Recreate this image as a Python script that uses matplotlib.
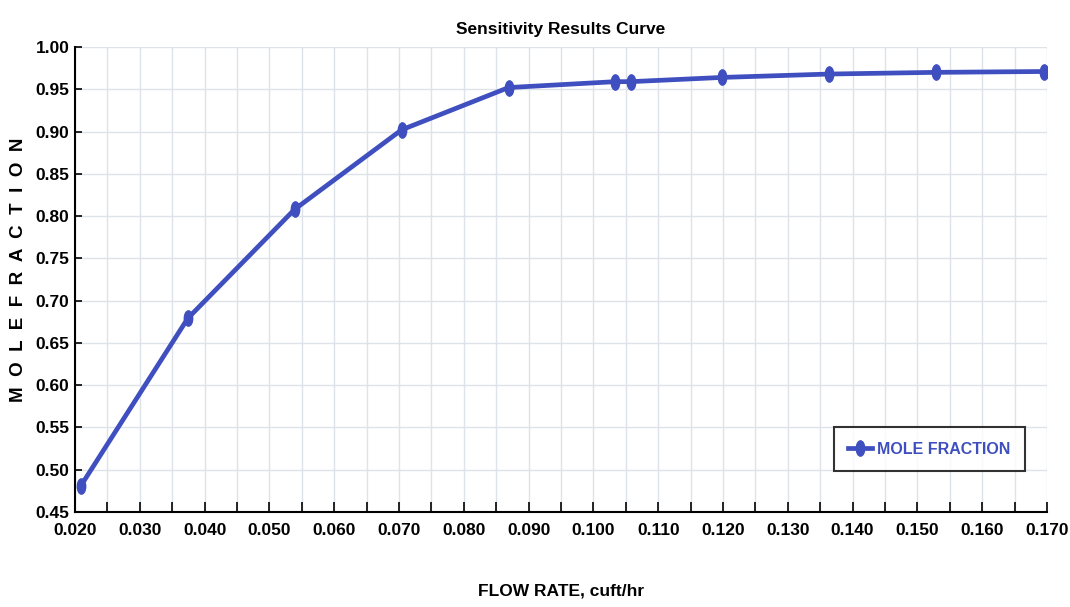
import matplotlib
matplotlib.use("Agg")
from matplotlib import pyplot as plt
from matplotlib.markers import MarkerStyle
from matplotlib.transforms import Affine2D
import numpy as np

# data
flow_rate = [0.0209, 0.0374, 0.0539, 0.0704, 0.0869, 0.1034, 0.1058, 0.1199, 0.1364, 0.1529, 0.1695]
mole_frac = [0.481, 0.679, 0.808, 0.902, 0.952, 0.959, 0.959, 0.964, 0.968, 0.970, 0.971]

x_ticks = np.arange(0.020, 0.1701, 0.010)
y_ticks = np.arange(0.45, 1.001, 0.05)

plt.rcParams['font.family'] = ['Liberation Sans', 'DejaVu Sans']
plt.rcParams['font.weight'] = 'bold'

blue = '#3f4fbf'

fig = plt.figure(figsize=(10.7, 6.07), dpi=100)
ax = fig.add_axes([0.0701, 0.1565, 0.9084, 0.7661])

mk = MarkerStyle('o', transform=Affine2D().scale(0.55, 1.0))
ax.plot(flow_rate, mole_frac, color=blue, lw=3.4, marker=mk, ms=11,
        label='MOLE FRACTION', zorder=3)

ax.set_xlim(0.020, 0.170)
ax.set_ylim(0.45, 1.00)
ax.set_xticks(x_ticks)
ax.set_xticklabels([f'{v:.3f}' for v in x_ticks])
ax.set_xticks(np.arange(0.025, 0.170, 0.010), minor=True)
ax.set_yticks(y_ticks)
ax.set_yticklabels([f'{v:.2f}' for v in y_ticks])

ax.grid(True, which='both', axis='x', color='#dde3e8', lw=1.0)
ax.grid(True, which='major', axis='y', color='#dde3e8', lw=1.0)
ax.set_axisbelow(True)

for s in ['top', 'right']:
    ax.spines[s].set_visible(False)
for s in ['left', 'bottom']:
    ax.spines[s].set_linewidth(1.5)
    ax.spines[s].set_color('black')

ax.tick_params(axis='x', which='both', direction='in', length=7, width=1.2,
               labelsize=12.5, pad=8)
ax.tick_params(axis='y', direction='in', length=5, width=1.2, labelsize=12.5, pad=4)

ax.set_title('Sensitivity Results Curve', fontsize=12.5, fontweight='bold', pad=9)
ax.set_xlabel('FLOW RATE, cuft/hr', fontsize=12.5, fontweight='bold', labelpad=33)
fig.text(19 / 1070, 1 - 270 / 607, '  '.join('MOLEFRACTION'), rotation=90,
         ha='center', va='center', fontsize=13.5, fontweight='bold')

leg = ax.legend(loc='lower right', bbox_to_anchor=(0.977, 0.088),
                fontsize=11.5, frameon=True, fancybox=False, handlelength=1.5,
                handletextpad=0.3, borderpad=0.9, borderaxespad=0)
leg.get_frame().set_edgecolor('black')
leg.get_frame().set_linewidth(1.5)
for t in leg.get_texts():
    t.set_color(blue)

fig.savefig('out.png', dpi=100)
